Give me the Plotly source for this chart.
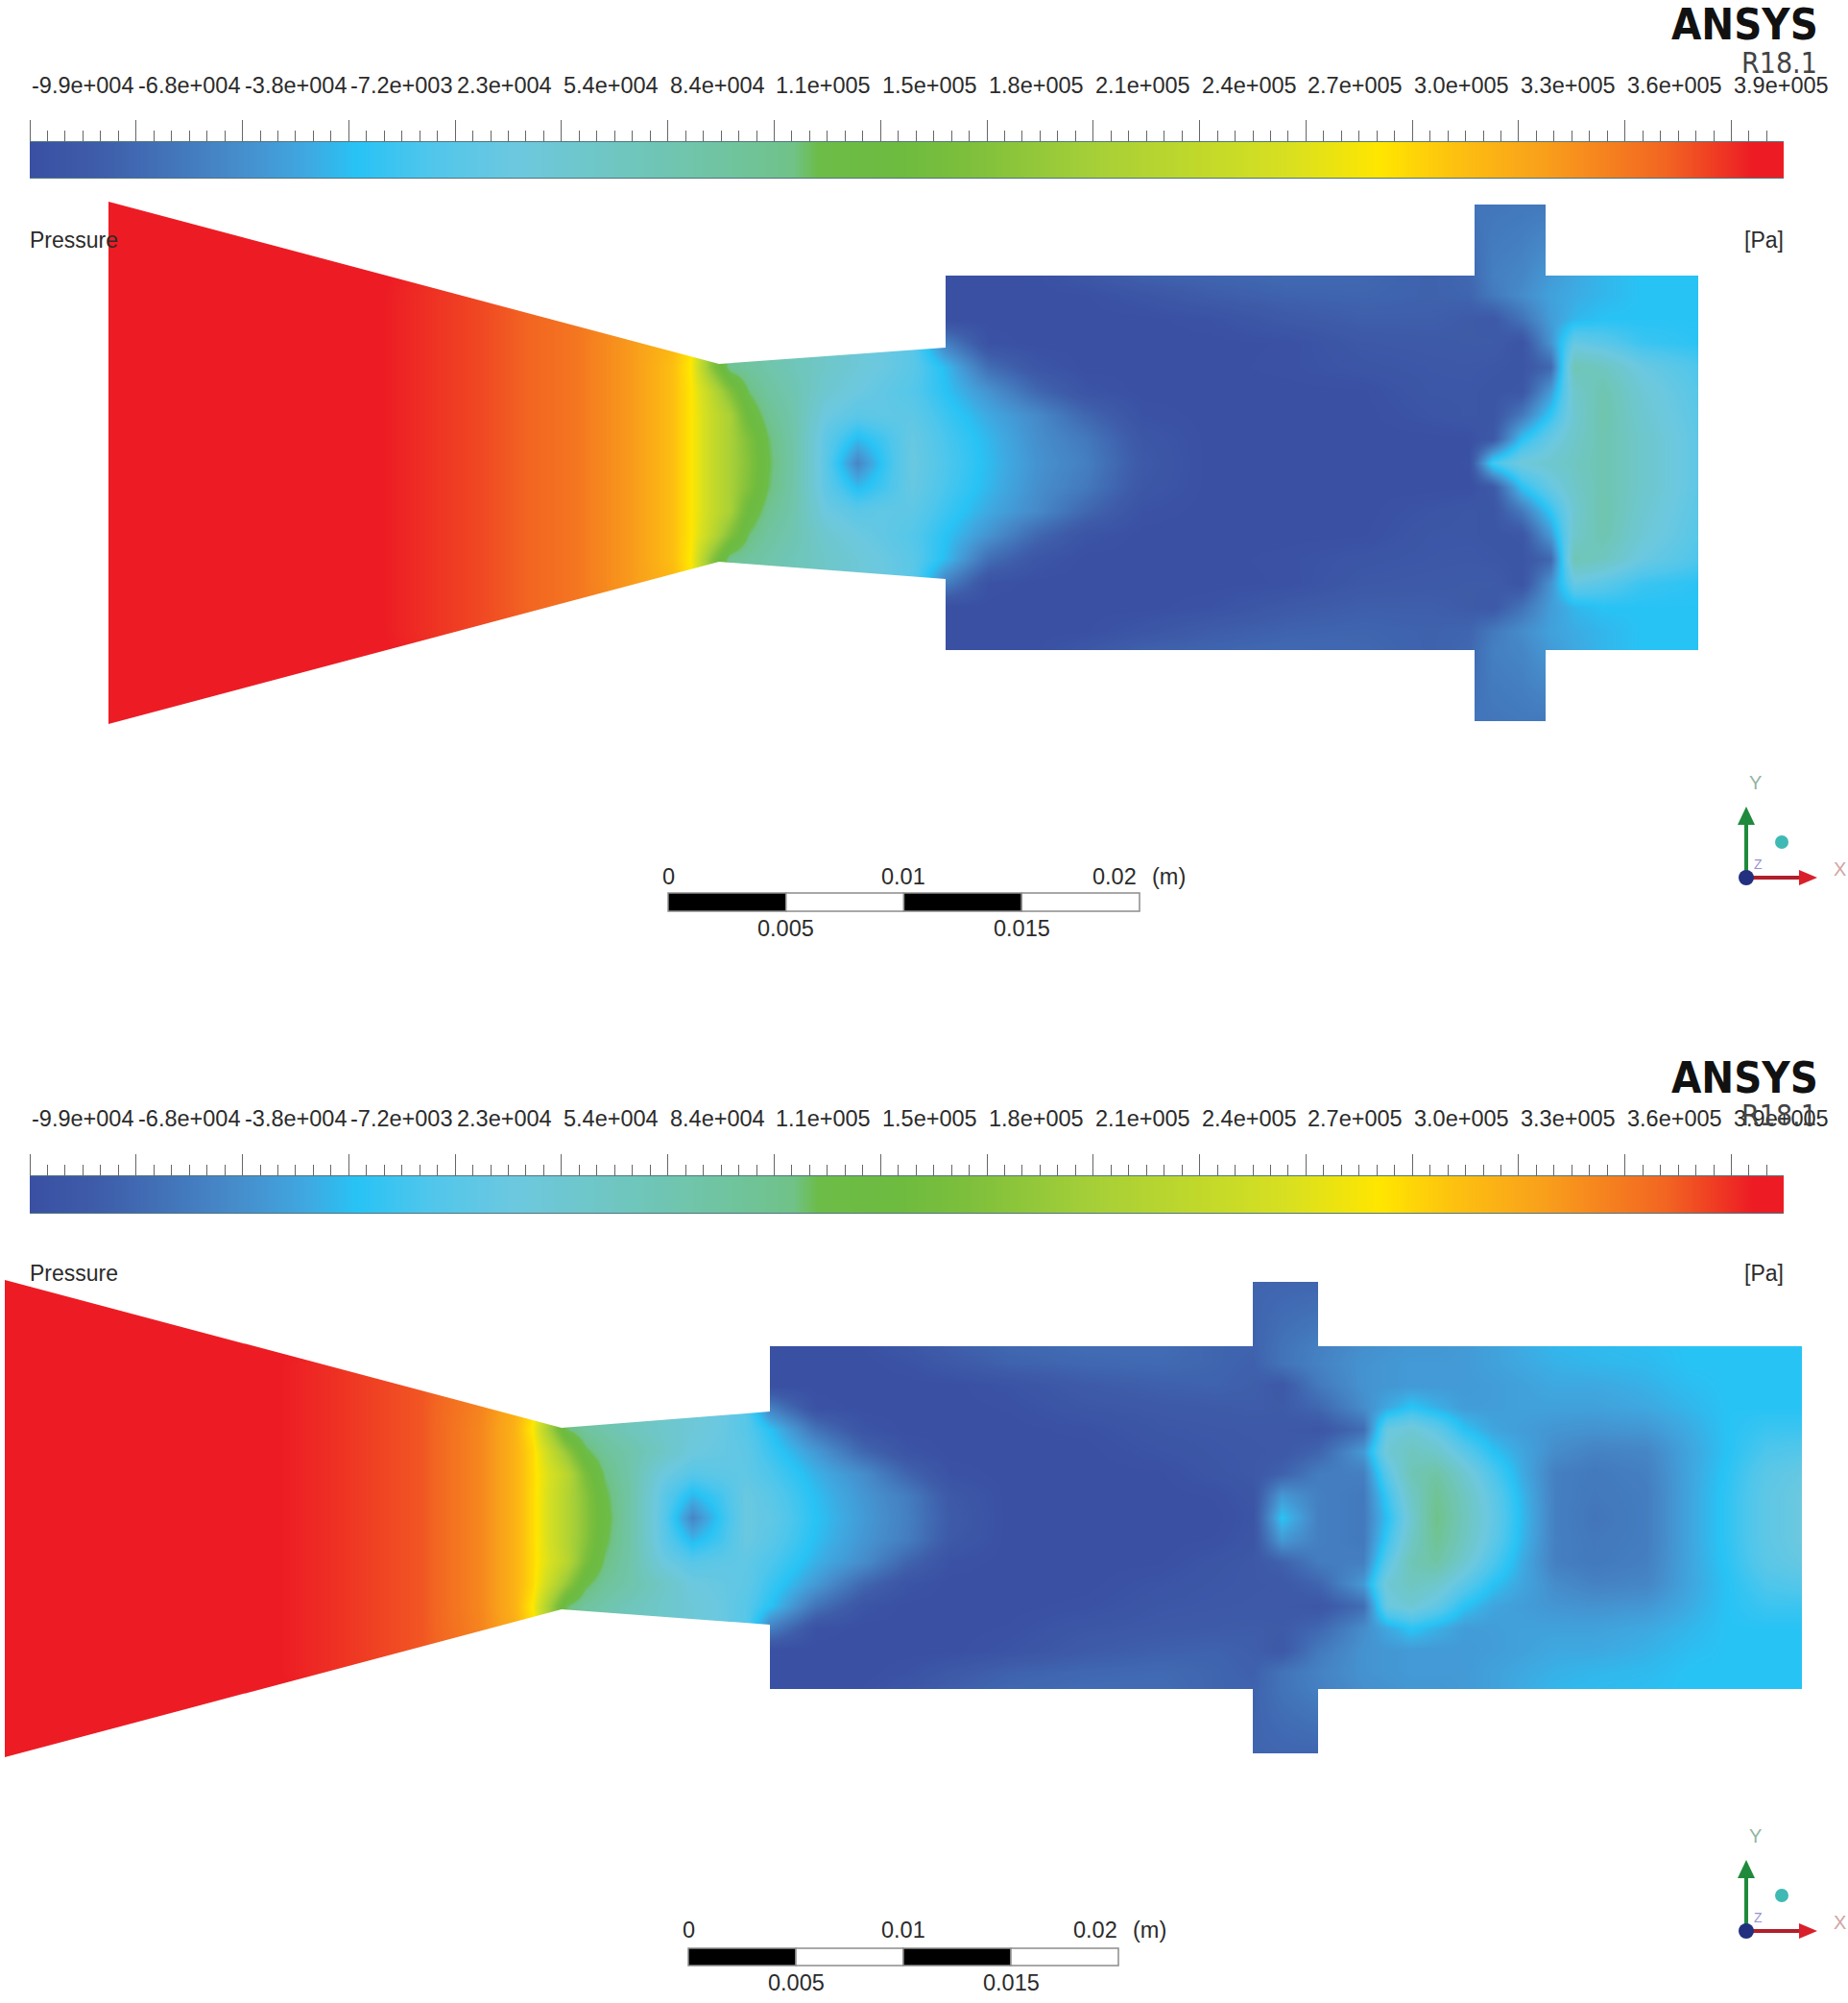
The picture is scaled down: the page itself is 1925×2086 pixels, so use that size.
"""Two ANSYS pressure contour views of a nozzle with side injector ports."""

import plotly.graph_objects as go

WIDTH = 1925
HEIGHT = 2086

# pressure levels in kPa and the colour legend of the bar
STOP_LEVELS = [-99, -80, -60, -40, -20, -5, 15, 40, 70, 100, 120, 127, 150, 170, 205, 262, 288, 310, 335, 370, 395, 404]
STOP_COLORS = [
    "#3a50a3", "#3e5ca9", "#4273b9", "#468ccb", "#3fa8e0", "#28c3f5", "#4fc6ec",
    "#6cc8df", "#6fc6c0", "#70c4a0", "#70c288", "#6cbc48", "#6dbb3f", "#7dbf3c", "#a5cf38",
    "#d8e020", "#ffe600", "#fdc010", "#f9a01b", "#f26522", "#ed1c24", "#ed1c24",
]
TICK_LABELS = [
    "-9.9e+004", "-6.8e+004", "-3.8e+004", "-7.2e+003", "2.3e+004", "5.4e+004",
    "8.4e+004", "1.1e+005", "1.5e+005", "1.8e+005", "2.1e+005", "2.4e+005",
    "2.7e+005", "3.0e+005", "3.3e+005", "3.6e+005", "3.9e+005",
]
TICK_STEP = 30.5
MINOR_PER_MAJOR = 6

# first view: pressure by column (px) and distance from the centreline (px)
TOP_X = [
    113, 400, 500, 600, 660, 700, 720, 740, 760, 780, 800,
    825, 860, 893, 920, 950, 985, 1030, 1080, 1130, 1190, 1260,
    1340, 1420, 1490, 1530, 1555, 1585, 1615, 1640, 1670, 1710, 1769,
]
TOP_OFFSETS = [0, 25, 50, 75, 100, 125, 150, 175, 195, 272]
TOP_P = [
    [404, 395, 380, 360, 337, 312, 288, 245, 210, 175, 128,
     95, 25, -45, 0, 38, 15, -10, -35, -50, -85, -99,
     -99, -99, -99, -97, 10, 45, 55, 68, 85, 60, 28],
    [404, 395, 380, 360, 337, 312, 288, 245, 210, 170, 125,
     93, 28, -10, 8, 36, 12, -12, -38, -55, -88, -99,
     -99, -99, -99, -98, -85, -5, 35, 62, 85, 60, 28],
    [404, 395, 380, 360, 337, 312, 288, 245, 210, 145, 112,
     90, 40, 25, 30, 28, 5, -20, -42, -70, -95, -99,
     -99, -99, -92, -88, -90, -55, 0, 55, 88, 55, 25],
    [404, 395, 380, 360, 337, 312, 288, 235, 175, 122, 100,
     85, 55, 40, 30, 20, -5, -35, -70, -92, -99, -99,
     -99, -98, -88, -88, -90, -88, -30, 60, 85, 50, 22],
    [404, 395, 380, 360, 337, 312, 285, 185, 112, 100, 90,
     78, 62, 48, 38, 25, -10, -65, -90, -99, -99, -99,
     -96, -90, -87, -86, -88, -90, -70, 80, 70, 38, 15],
    [404, 395, 380, 360, 337, 318, 290, 185, 112, 100, 90,
     78, 62, 48, 38, 25, -50, -95, -99, -99, -99, -99,
     -97, -86, -84, -82, -82, -92, -35, 35, 25, 5, -3],
    [404, 395, 380, 360, 340, 330, 300, 260, 200, 150, 120,
     100, 80, 60, 45, 30, -99, -99, -99, -99, -99, -95,
     -84, -78, -78, -82, -85, -60, -28, -12, -5, -5, -5],
    [404, 395, 380, 362, 345, 330, 300, 260, 200, 150, 120,
     100, 80, 60, 45, 30, -99, -99, -99, -98, -90, -80,
     -74, -72, -75, -72, -55, -40, -25, -18, -12, -5, -5],
    [404, 396, 382, 365, 348, 330, 300, 260, 200, 150, 120,
     100, 80, 60, 45, 30, -99, -99, -98, -88, -75, -72,
     -68, -70, -75, -70, -50, -45, -30, -20, -12, -5, -5],
    [404, 398, 388, 372, 355, 330, 300, 260, 200, 150, 120,
     100, 80, 60, 45, 30, -99, -97, -92, -78, -72, -70,
     -68, -70, -75, -58, -58, -56, -56, -20, -12, -5, -5],
]

# second view
BOTTOM_X = [
    5, 250, 350, 440, 500, 535, 555, 572, 590, 610, 630, 655, 690, 721,
    750, 777, 802, 850, 900, 945, 990, 1050, 1130, 1210, 1265, 1305, 1335, 1373,
    1420, 1445, 1470, 1496, 1525, 1555, 1585, 1620, 1660, 1715, 1760, 1800, 1840, 1877,
]
BOTTOM_OFFSETS = [0, 23, 46, 69, 92, 115, 138, 160, 178, 248]
BOTTOM_P = [
    [404, 400, 388, 375, 350, 322, 295, 258, 222, 180, 135, 95, 25, -45,
     0, 38, 30, -5, -30, -50, -82, -99, -99, -99, -99, -92, -5, -50,
     -55, -5, 55, 118, 75, 32, -10, -50, -58, -52, -22, 0, 28, 40],
    [404, 400, 388, 375, 350, 322, 295, 258, 222, 178, 130, 95, 28, -12,
     8, 38, 25, -8, -33, -52, -85, -99, -99, -99, -97, -90, -30, -50,
     -55, 5, 65, 110, 70, 28, -12, -50, -56, -52, -22, 0, 28, 40],
    [404, 400, 388, 375, 350, 322, 295, 262, 228, 165, 120, 92, 42, 22,
     28, 30, 15, -15, -40, -72, -95, -99, -99, -98, -90, -86, -75, -52,
     -50, 25, 80, 95, 55, 15, -18, -50, -55, -50, -22, -2, 25, 35],
    [404, 400, 388, 375, 350, 322, 295, 245, 190, 130, 105, 90, 65, 42,
     35, 28, 5, -30, -70, -92, -99, -99, -99, -92, -88, -86, -85, -72,
     -30, 50, 70, 60, 25, -5, -22, -40, -48, -45, -22, -5, 15, 20],
    [404, 400, 388, 375, 350, 322, 285, 205, 125, 100, 88, 75, 60, 48,
     38, 22, -5, -60, -92, -99, -99, -99, -96, -88, -86, -85, -85, -88,
     -65, 38, 50, 30, -5, -22, -28, -33, -35, -32, -18, -5, 5, 5],
    [404, 400, 388, 375, 352, 325, 295, 205, 125, 100, 88, 75, 60, 48,
     38, 22, -50, -95, -99, -99, -99, -97, -88, -84, -82, -80, -82, -70,
     -40, -20, -3, -15, -28, -28, -25, -25, -25, -20, -12, -5, -5, -5],
    [404, 400, 388, 375, 355, 330, 300, 260, 200, 150, 120, 100, 80, 60,
     45, 30, -99, -99, -99, -99, -99, -93, -82, -76, -74, -78, -85, -55,
     -35, -32, -30, -30, -30, -28, -25, -20, -20, -15, -8, -5, -5, -5],
    [404, 400, 388, 375, 355, 330, 300, 260, 200, 150, 120, 100, 80, 60,
     45, 30, -99, -99, -99, -95, -85, -75, -70, -68, -72, -76, -60, -48,
     -35, -32, -30, -30, -30, -25, -20, -15, -12, -10, -5, -5, -5, -5],
    [404, 400, 390, 378, 358, 330, 300, 260, 200, 150, 120, 100, 80, 60,
     45, 30, -99, -99, -97, -88, -78, -70, -66, -66, -72, -74, -60, -50,
     -38, -35, -32, -32, -30, -25, -18, -12, -10, -8, -5, -5, -5, -5],
    [404, 400, 390, 378, 358, 330, 300, 260, 200, 150, 120, 100, 80, 60,
     45, 30, -99, -95, -88, -80, -74, -68, -65, -66, -72, -72, -72, -72,
     -38, -35, -32, -32, -30, -25, -18, -12, -10, -8, -5, -5, -5, -5],
]

# duct walls, in page pixels
TOP_WALL = [
    (113, 210), (749, 379), (985, 362), (985, 287), (1536, 287), (1536, 213),
    (1610, 213), (1610, 287), (1769, 287), (1769, 677), (1610, 677), (1610, 751),
    (1536, 751), (1536, 677), (985, 677), (985, 603), (749, 585), (113, 754),
]
BOTTOM_WALL = [
    (5, 1333), (585, 1487), (802, 1470), (802, 1402), (1305, 1402), (1305, 1335),
    (1373, 1335), (1373, 1402), (1877, 1402), (1877, 1759), (1373, 1759), (1373, 1826),
    (1305, 1826), (1305, 1759), (802, 1759), (802, 1692), (585, 1676), (5, 1830),
]

SCALE_LABELS_UPPER = ["0", "0.01", "0.02", "(m)"]
SCALE_LABELS_LOWER = ["0.005", "0.015"]

PMIN, PMAX = STOP_LEVELS[0], STOP_LEVELS[-1]
COLORSCALE = [[(lv - PMIN) / (PMAX - PMIN), c] for lv, c in zip(STOP_LEVELS, STOP_COLORS)]
MAJOR_TICKS = [PMIN + i * TICK_STEP for i in range(len(TICK_LABELS))]
TEXT = "#2b2b2b"


def field_trace(xs, offsets, rows, centre):
    # the table holds one half of the duct, the other half mirrors it
    ys = [centre - o for o in reversed(offsets[1:])] + [centre + o for o in offsets]
    z = list(reversed(rows[1:])) + rows
    # a repeated outer row keeps the heatmap from spilling past the last row
    ys = [ys[0] - 2] + ys + [ys[-1] + 2]
    z = [z[0]] + z + [z[-1]]
    return go.Heatmap(
        x=xs, y=ys, z=z, zmin=PMIN, zmax=PMAX, zsmooth="best",
        colorscale=COLORSCALE, showscale=False, hoverinfo="skip",
    )


def bar_trace(xaxis, yaxis):
    return go.Heatmap(
        x=STOP_LEVELS, y=[0, 1], z=[STOP_LEVELS, STOP_LEVELS], zmin=PMIN, zmax=PMAX,
        zsmooth="best", colorscale=COLORSCALE, showscale=False, hoverinfo="skip",
        xaxis=xaxis, yaxis=yaxis,
    )


def wall_mask(wall, y0, y1):
    # white everywhere in the band except inside the duct
    path = f"M0,{y0} L0,{y1} L{WIDTH},{y1} L{WIDTH},{y0} Z M"
    path += " L".join(f"{x},{y}" for x, y in wall) + " Z"
    return dict(type="path", path=path, fillcolor="white", line_width=0, layer="above",
                xref="x", yref="y")


def label(x, y, text, size=23.5, color=TEXT, family="Liberation Sans", anchor="center", xref="x"):
    return dict(x=x, y=y, xref=xref, yref="y", text=text, showarrow=False, xanchor=anchor,
                yanchor="middle", font=dict(size=size, color=color, family=family))


def rect(x0, x1, y0, y1, fill, line="#8c8c8c"):
    return dict(type="rect", x0=x0, x1=x1, y0=y0, y1=y1, fillcolor=fill,
                line=dict(color=line, width=1.5), xref="x", yref="y", layer="above")


def scale_bar(x0, x1, y0, y1):
    step = (x1 - x0) / 4
    return [rect(x0 + i * step, x0 + (i + 1) * step, y0, y1, "black" if i % 2 == 0 else "white")
            for i in range(4)]


def triad(ox, oy):
    red, green = "#d9202a", "#1f8a3c"
    return [
        dict(type="line", x0=ox, x1=ox, y0=oy, y1=oy - 62, line=dict(color=green, width=4),
             xref="x", yref="y", layer="above"),
        dict(type="path", path=f"M{ox - 9},{oy - 55} L{ox},{oy - 74} L{ox + 9},{oy - 55} Z",
             fillcolor=green, line_width=0, xref="x", yref="y", layer="above"),
        dict(type="line", x0=ox, x1=ox + 58, y0=oy, y1=oy, line=dict(color="#b01f2b", width=4),
             xref="x", yref="y", layer="above"),
        dict(type="path", path=f"M{ox + 55},{oy - 8} L{ox + 74},{oy} L{ox + 55},{oy + 8} Z",
             fillcolor=red, line_width=0, xref="x", yref="y", layer="above"),
        dict(type="circle", x0=ox - 8, x1=ox + 8, y0=oy - 8, y1=oy + 8, fillcolor="#23307f",
             line_width=0, xref="x", yref="y", layer="above"),
        dict(type="circle", x0=ox + 30, x1=ox + 44, y0=oy - 44, y1=oy - 30, fillcolor="#3fb9b4",
             line_width=0, xref="x", yref="y", layer="above"),
    ]


def triad_labels(ox, oy):
    return [
        label(ox + 9, oy - 99, "Y", 20, "#93b49f"),
        label(ox + 97, oy - 9, "X", 20, "#d3a4a4"),
        label(ox + 12, oy - 14, "Z", 14, "#9a90cf"),
    ]


def header(bar_axis, y_labels, y_ansys, y_release, y_pressure):
    # tick labels start at their tick, they are not centred on it
    notes = [label(v, y_labels, t, anchor="left", xref=bar_axis) for v, t in zip(MAJOR_TICKS, TICK_LABELS)]
    notes += [
        label(1896, y_ansys, "<b>ANSYS</b>", 45, "#111111", "DejaVu Sans Condensed, Roboto", "right"),
        label(1895, y_release, "R18.1", 30, "#444444", "DejaVu Sans Condensed, Roboto", "right"),
        label(29, y_pressure, "Pressure", 23, anchor="left"),
        label(1860, y_pressure, "[Pa]", 23, anchor="right"),
    ]
    return notes


def color_axes(y0, y1):
    minors = [PMIN + i * TICK_STEP / MINOR_PER_MAJOR for i in range(int((PMAX - PMIN) / TICK_STEP * MINOR_PER_MAJOR) + 1)]
    xaxis = dict(
        domain=[31 / WIDTH, 1858 / WIDTH], range=[PMIN, PMAX], side="top", showgrid=False,
        zeroline=False, showticklabels=False, ticks="outside", ticklen=22, tickwidth=1,
        tickcolor="#666666", tickvals=MAJOR_TICKS, showline=True, mirror=True, linewidth=1,
        linecolor="rgba(20,70,80,0.75)",
        minor=dict(tickmode="array", tickvals=minors, ticks="outside", ticklen=11,
                   tickwidth=1, tickcolor="#666666", showgrid=False),
    )
    yaxis = dict(domain=[1 - y1 / HEIGHT, 1 - y0 / HEIGHT], range=[0, 1], visible=False)
    return xaxis, yaxis


fig = go.Figure()
fig.add_trace(field_trace(TOP_X, TOP_OFFSETS, TOP_P, 482))
fig.add_trace(field_trace(BOTTOM_X, BOTTOM_OFFSETS, BOTTOM_P, 1580.5))
fig.add_trace(bar_trace("x2", "y2"))
fig.add_trace(bar_trace("x3", "y3"))

shapes = [wall_mask(TOP_WALL, 186, 800), wall_mask(BOTTOM_WALL, 1264, 1900)]
shapes += scale_bar(696, 1187, 930, 949) + scale_bar(717, 1165, 2029, 2047)
shapes += triad(1819, 914) + triad(1819, 2011)

notes = header("x2", 89, 25, 65, 250) + header("x3", 1165, 1122, 1161, 1326)
for x, t in zip([696, 941, 1161, 1217], SCALE_LABELS_UPPER):
    notes.append(label(x, 913, t))
for x, t in zip([818, 1064], SCALE_LABELS_LOWER):
    notes.append(label(x, 967, t))
for x, t in zip([717, 941, 1141, 1197], SCALE_LABELS_UPPER):
    notes.append(label(x, 2010, t))
for x, t in zip([829, 1053], SCALE_LABELS_LOWER):
    notes.append(label(x, 2065, t))
notes += triad_labels(1819, 914) + triad_labels(1819, 2011)

x2, y2 = color_axes(148, 185)
x3, y3 = color_axes(1225, 1263)
x2["anchor"], y2["anchor"] = "y2", "x2"
x3["anchor"], y3["anchor"] = "y3", "x3"

fig.update_layout(
    width=WIDTH,
    height=HEIGHT,
    margin=dict(l=0, r=0, t=0, b=0),
    paper_bgcolor="white",
    plot_bgcolor="white",
    showlegend=False,
    xaxis=dict(domain=[0, 1], range=[0, WIDTH], visible=False),
    yaxis=dict(domain=[0, 1], range=[HEIGHT, 0], visible=False),
    xaxis2=x2,
    yaxis2=y2,
    xaxis3=x3,
    yaxis3=y3,
    shapes=shapes,
    annotations=notes,
)

fig.write_html(
    "out.html",
    config=dict(displayModeBar=False),
    post_script="document.body.style.margin = '0';",
)
